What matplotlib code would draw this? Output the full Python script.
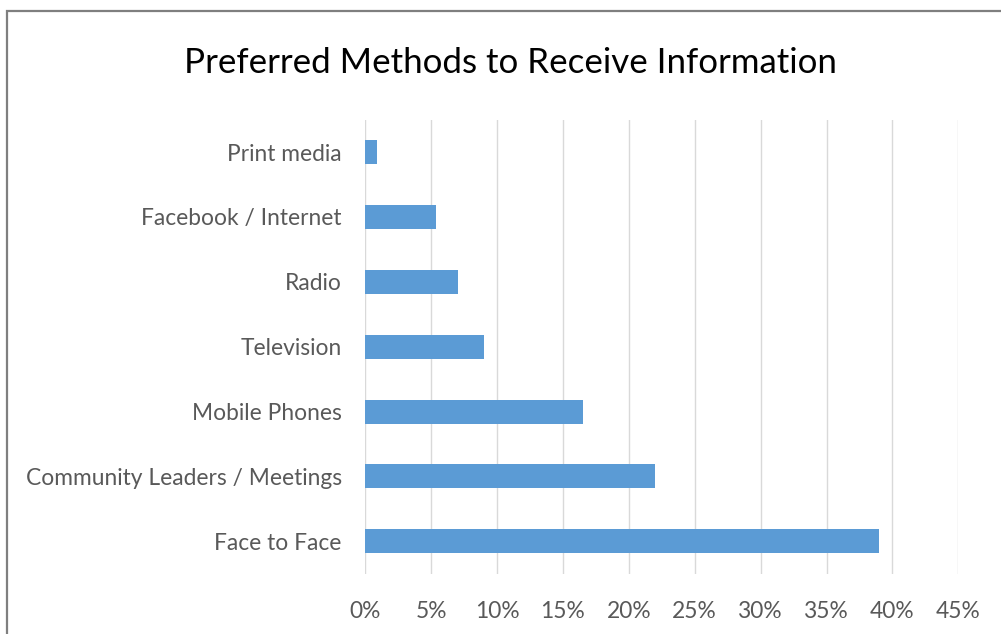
import matplotlib
matplotlib.use("Agg")
import matplotlib.pyplot as plt
from matplotlib.patches import Rectangle
from matplotlib.ticker import FuncFormatter, MultipleLocator

categories = ["Face to Face", "Community Leaders / Meetings", "Mobile Phones",
              "Television", "Radio", "Facebook / Internet", "Print media"]
shares = [39.0, 22.0, 16.5, 9.0, 7.0, 5.4, 0.9]
title = "Preferred Methods to Receive Information"

plt.rcParams["font.family"] = ["Lato", "DejaVu Sans"]

fig = plt.figure(figsize=(10.01, 6.34), dpi=100)
fig.patch.set_facecolor("white")

# chart-area border
fig.add_artist(Rectangle((7 / 1001, -0.1), 1.2, (1 - 11 / 634) + 0.1,
                         transform=fig.transFigure, fill=False,
                         edgecolor="#7f7f7f", linewidth=1.6))

ax = fig.add_axes([365.3 / 1001, 1 - 573.7 / 634, 593 / 1001, 454.1 / 634])
ypos = list(range(len(categories)))
ax.barh(ypos, shares, height=0.37, color="#5B9BD5", zorder=3)

ax.set_xlim(0, 45)
ax.set_ylim(-0.5, len(categories) - 0.5)
ax.xaxis.set_major_locator(MultipleLocator(5))
ax.xaxis.set_major_formatter(FuncFormatter(lambda v, _: f"{v:.0f}%"))
ax.set_yticks(ypos)
ax.set_yticklabels(categories)

ax.grid(axis="x", color="#D9D9D9", linewidth=1.0, zorder=0)
for s in ax.spines.values():
    s.set_visible(False)
ax.tick_params(axis="both", length=0, colors="#595959", labelsize=16.4)
ax.tick_params(axis="y", pad=17)
ax.tick_params(axis="x", pad=20)

fig.text(0.51, 1 - 63 / 634, title, ha="center", va="center",
         fontsize=25.1, color="#000000")

fig.savefig("out.png", dpi=100, facecolor="white")
